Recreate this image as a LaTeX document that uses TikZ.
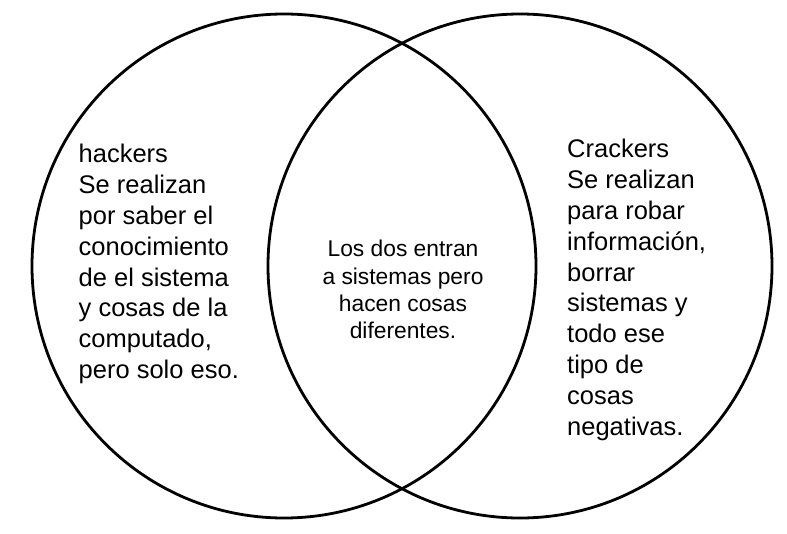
\documentclass[tikz,border=0pt]{standalone}
\usepackage{fontspec}
\setmainfont{Liberation Sans}
\begin{document}
\begin{tikzpicture}[x=1pt,y=-1pt,
  ring/.style={circle,draw=black,line width=2.8pt,minimum size=504pt,inner sep=0pt},
  sidetext/.style={anchor=base west,align=left,inner sep=0pt,font=\fontsize{25.5}{30.8}\selectfont},
  midtext/.style={anchor=base,align=center,inner sep=0pt,font=\fontsize{22.8}{27.2}\selectfont}]
\useasboundingbox (0,0) rectangle (787,533);
\node[ring] (L) at (284,266) {};
\node[ring] (R) at (520,266) {};
\node[sidetext] (hk) at (78.5,378.5) {hackers\\Se realizan\\por saber el\\conocimiento\\de el sistema\\y cosas de la\\computado,\\pero solo eso.};
\node[sidetext] (ck) at (567,435) {Crackers\\Se realizan\\para robar\\información,\\borrar\\sistemas y\\todo ese\\tipo de\\cosas\\negativas.};
\node[midtext] (both) at (403,338.5) {Los dos entran\\a sistemas pero\\hacen cosas\\diferentes.};
\end{tikzpicture}
\end{document}
